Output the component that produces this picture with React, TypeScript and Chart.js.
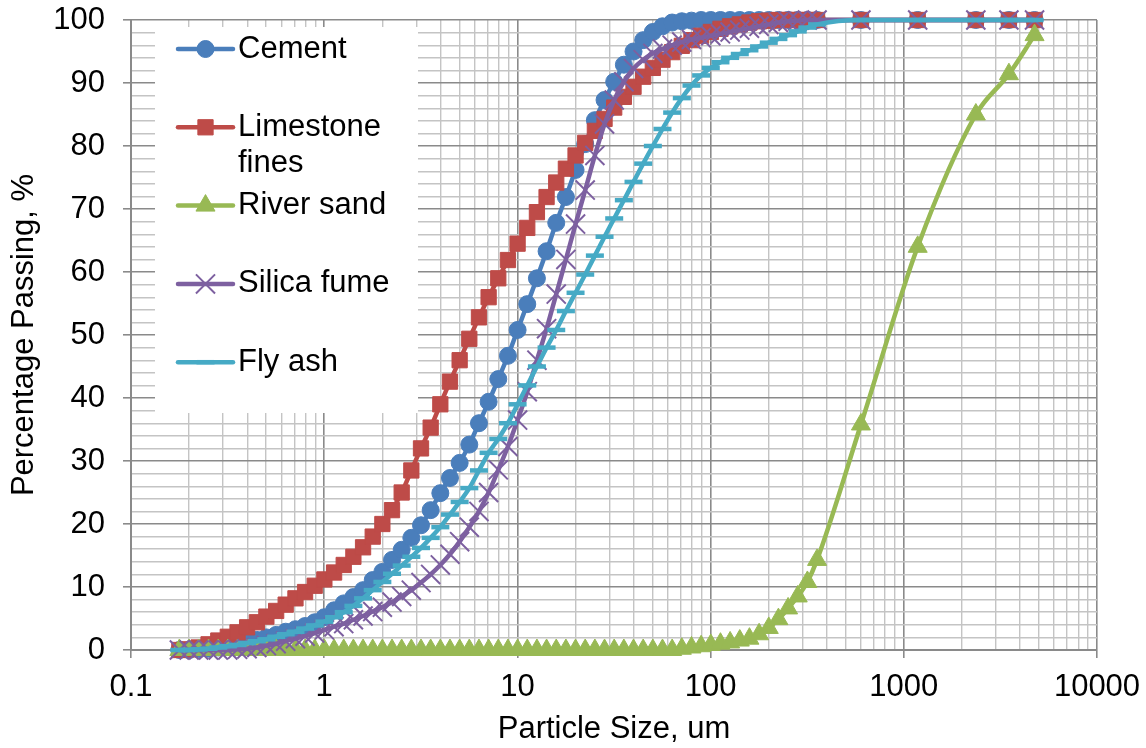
import React, { useEffect, useRef } from 'react';
import { Chart, registerables } from 'chart.js';

Chart.register(...registerables);

const FONT = '"Liberation Sans", Arial, Helvetica, sans-serif';

// Particle sizes (um): laser-diffraction bins followed by sieve sizes
const SIZES = [
  0.178, 0.2, 0.224, 0.252, 0.283, 0.317, 0.356, 0.399, 0.448, 0.502,
  0.564, 0.632, 0.71, 0.796, 0.893, 1.002, 1.125, 1.262, 1.416, 1.589,
  1.783, 2.0, 2.244, 2.518, 2.825, 3.17, 3.557, 3.991, 4.477, 5.024,
  5.637, 6.325, 7.096, 7.962, 8.934, 10.024, 11.247, 12.619, 14.159, 15.887,
  17.825, 20.0, 22.44, 25.179, 28.251, 31.698, 35.566, 39.905, 44.774, 50.238,
  56.368, 63.246, 70.963, 79.621, 89.337, 100.237, 112.468, 126.191, 141.589, 158.866,
  178.25, 200.0, 224.404, 251.785, 282.508, 316.979, 355.656,
  600, 1180, 2360, 3500, 4750,
];

const CEMENT = [
  0, 0, 0.1, 0.2, 0.4, 0.6, 0.9, 1.2, 1.6, 2.0,
  2.4, 2.9, 3.3, 3.8, 4.4, 5.2, 6.3, 7.4, 8.4, 9.5,
  11.1, 12.4, 14.3, 15.9, 17.8, 19.8, 22.2, 24.9, 27.3, 29.7,
  32.6, 36.0, 39.4, 43.0, 46.7, 50.8, 54.9, 59.0, 63.3, 67.8,
  71.9, 76.2, 80.3, 84.1, 87.3, 90.2, 92.9, 95.0, 96.8, 98.1,
  99.0, 99.6, 99.8, 99.9, 100, 100, 100, 100, 100, 100,
  100, 100, 100, 100, 100, 100, 100,
  100, 100, 100, 100, 100,
];

const LIMESTONE = [
  0, 0.1, 0.4, 0.9, 1.5, 2.1, 2.8, 3.6, 4.4, 5.3,
  6.2, 7.2, 8.2, 9.2, 10.2, 11.2, 12.3, 13.5, 14.8, 16.3,
  18.0, 20.0, 22.2, 25.0, 28.5, 32.0, 35.3, 39.0, 42.6, 46.0,
  49.4, 52.8, 56.0, 59.0, 61.9, 64.5, 67.0, 69.5, 71.9, 74.2,
  76.4, 78.5, 80.5, 82.4, 84.3, 86.1, 87.8, 89.4, 91.0, 92.4,
  93.7, 94.9, 95.9, 96.8, 97.5, 98.1, 98.6, 99.0, 99.3, 99.6,
  99.8, 99.9, 100, 100, 100, 100, 100,
  100, 100, 100, 100, 100,
];

const RIVER_SAND = [
  0, 0, 0, 0, 0, 0, 0, 0, 0, 0,
  0, 0, 0, 0, 0, 0, 0, 0, 0, 0,
  0, 0, 0, 0, 0, 0, 0, 0, 0, 0,
  0, 0, 0, 0, 0, 0, 0, 0, 0, 0,
  0, 0, 0, 0, 0, 0, 0, 0, 0, 0,
  0, 0, 0.2, 0.4, 0.6, 0.8, 1.0, 1.2, 1.5, 1.8,
  2.5, 3.5, 4.9, 6.6, 8.5, 10.8, 14.3,
  35.8, 64.0, 85.0, 91.4, 97.6,
];

const SILICA_FUME = [
  0, 0, 0, 0, 0, 0, 0.1, 0.2, 0.4, 0.7,
  1.0, 1.4, 1.8, 2.2, 2.7, 3.2, 3.7, 4.2, 4.8, 5.4,
  6.1, 6.8, 7.6, 8.5, 9.5, 10.7, 12.0, 13.5, 15.2, 17.2,
  19.5, 22.0, 25.0, 28.6, 32.3, 36.5, 41.0, 46.0, 51.0, 56.5,
  62.0, 67.6, 73.0, 78.5, 83.5, 87.3, 90.2, 92.3, 93.7, 94.7,
  95.4, 96.0, 96.5, 96.9, 97.2, 97.5, 97.8, 98.1, 98.4, 98.7,
  99.0, 99.3, 99.6, 99.8, 99.9, 100, 100,
  100, 100, 100, 100, 100,
];

const FLY_ASH = [
  0, 0, 0.1, 0.2, 0.4, 0.6, 0.8, 1.1, 1.4, 1.7,
  2.1, 2.5, 2.9, 3.4, 3.9, 4.5, 5.2, 6.0, 7.0, 8.2,
  9.5, 10.8, 12.1, 13.4, 14.8, 16.2, 17.8, 19.5, 21.5, 23.5,
  25.7, 28.5, 31.3, 33.5, 36.0, 39.0, 42.0, 45.0, 48.0, 50.8,
  53.8, 56.7, 59.6, 62.6, 65.6, 68.5, 71.4, 74.3, 77.2, 80.0,
  82.7, 85.3, 87.6, 89.6, 91.2, 92.4, 93.3, 94.0, 94.6, 95.2,
  95.8, 96.4, 97.0, 97.6, 98.2, 98.8, 99.3,
  100, 100, 100, 100, 100,
];

const SERIES_NAMES = ['Cement', 'Limestone fines', 'River sand', 'Silica fume', 'Fly ash'];
const LEGEND_LINES = [['Cement'], ['Limestone', 'fines'], ['River sand'], ['Silica fume'], ['Fly ash']];
const COLORS = ['#4A7EBB', '#BE4B48', '#98B954', '#7D60A0', '#46AAC5'];

const X_TICKS = [
  0.1, 0.2, 0.3, 0.4, 0.5, 0.6, 0.7, 0.8, 0.9,
  1, 2, 3, 4, 5, 6, 7, 8, 9,
  10, 20, 30, 40, 50, 60, 70, 80, 90,
  100, 200, 300, 400, 500, 600, 700, 800, 900,
  1000, 2000, 3000, 4000, 5000, 6000, 7000, 8000, 9000,
  10000,
];
const X_MIN = 0.1;
const X_MAX = 10000;
const Y_MIN = 0;
const Y_MAX = 100;
const Y_MINOR_STEP = 2;
const Y_MAJOR_STEP = 10;

const X_TITLE = 'Particle Size, um';
const Y_TITLE = 'Percentage Passing, %';

const MAJOR_GRID = '#8a8a8a';
const MINOR_GRID = '#c4c4c4';

const isDecade = (v: number) => {
  const l = Math.log10(v);
  return Math.abs(l - Math.round(l)) < 1e-6;
};

type MarkerSpec = { style: string; radius: number; borderWidth: number };
const MARKERS: MarkerSpec[] = [
  { style: 'circle', radius: 8.5, borderWidth: 1 },
  { style: 'rect', radius: 10.8, borderWidth: 1 },
  { style: 'triangle', radius: 11, borderWidth: 1 },
  { style: 'crossRot', radius: 13.5, borderWidth: 2 },
  { style: 'line', radius: 9, borderWidth: 4.5 },
];

function drawMarker(ctx: CanvasRenderingContext2D, m: MarkerSpec, x: number, y: number, color: string) {
  ctx.save();
  ctx.fillStyle = color;
  ctx.strokeStyle = color;
  ctx.lineWidth = m.borderWidth;
  ctx.beginPath();
  const r = m.radius;
  if (m.style === 'circle') {
    ctx.arc(x, y, r, 0, Math.PI * 2);
    ctx.fill();
    ctx.stroke();
  } else if (m.style === 'rect') {
    const s = Math.SQRT1_2 * r;
    ctx.rect(x - s, y - s, 2 * s, 2 * s);
    ctx.fill();
    ctx.stroke();
  } else if (m.style === 'triangle') {
    let rad = 0;
    ctx.moveTo(x + Math.sin(rad) * r, y - Math.cos(rad) * r);
    rad += (2 * Math.PI) / 3;
    ctx.lineTo(x + Math.sin(rad) * r, y - Math.cos(rad) * r);
    rad += (2 * Math.PI) / 3;
    ctx.lineTo(x + Math.sin(rad) * r, y - Math.cos(rad) * r);
    ctx.closePath();
    ctx.fill();
    ctx.stroke();
  } else if (m.style === 'crossRot') {
    const o = Math.cos(Math.PI / 4) * r;
    ctx.moveTo(x - o, y - o);
    ctx.lineTo(x + o, y + o);
    ctx.moveTo(x - o, y + o);
    ctx.lineTo(x + o, y - o);
    ctx.stroke();
  } else if (m.style === 'line') {
    ctx.moveTo(x - r, y);
    ctx.lineTo(x + r, y);
    ctx.stroke();
  }
  ctx.restore();
}

const legendPlugin = {
  id: 'boxLegend',
  afterDraw(chart: any) {
    const { ctx, chartArea } = chart;
    const boxLeft = chartArea.left + 24;
    const boxTop = chartArea.top + 7;
    const boxW = 263;
    const boxH = 386;
    ctx.save();
    ctx.fillStyle = '#ffffff';
    ctx.fillRect(boxLeft, boxTop, boxW, boxH);
    const rowGap = 78.3;
    const firstY = boxTop + 22;
    const lineX0 = boxLeft + 23;
    const lineX1 = boxLeft + 78;
    const textX = boxLeft + 83;
    LEGEND_LINES.forEach((lines, i) => {
      const y = firstY + i * rowGap;
      const color = COLORS[i];
      ctx.save();
      ctx.strokeStyle = color;
      ctx.lineWidth = 4.5;
      ctx.lineCap = 'round';
      ctx.beginPath();
      ctx.moveTo(lineX0, y);
      ctx.lineTo(lineX1, y);
      ctx.stroke();
      ctx.restore();
      drawMarker(ctx, MARKERS[i], (lineX0 + lineX1) / 2, y, color);
      ctx.fillStyle = '#000000';
      ctx.font = `31px ${FONT}`;
      ctx.textAlign = 'left';
      ctx.textBaseline = 'middle';
      lines.forEach((t, j) => {
        ctx.fillText(t, textX, y + j * 36);
      });
    });
    ctx.restore();
  },
};

export default function App() {
  const canvasRef = useRef<HTMLCanvasElement | null>(null);

  useEffect(() => {
    document.body.style.margin = '0';
    const canvas = canvasRef.current;
    if (!canvas) return;

    const seriesValues = [CEMENT, LIMESTONE, RIVER_SAND, SILICA_FUME, FLY_ASH];
    const datasets = seriesValues.map((vals, i) => ({
      label: SERIES_NAMES[i],
      data: SIZES.map((x, k) => ({ x, y: vals[k] })),
      borderColor: COLORS[i],
      backgroundColor: COLORS[i],
      borderWidth: 4.5,
      borderCapStyle: 'round' as const,
      borderJoinStyle: 'round' as const,
      cubicInterpolationMode: 'monotone' as const,
      pointStyle: MARKERS[i].style as any,
      pointRadius: MARKERS[i].radius,
      pointBorderWidth: MARKERS[i].borderWidth,
      pointBackgroundColor: COLORS[i],
      pointBorderColor: COLORS[i],
      fill: false,
      clip: false as any,
      order: 4 - i,
    }));

    const gridColor = (c: any) => {
      const v = c.tick ? c.tick.value : 0;
      return isDecade(v) ? MAJOR_GRID : MINOR_GRID;
    };
    const yGridColor = (c: any) => {
      const v = c.tick ? c.tick.value : 0;
      return Math.round(v) % Y_MAJOR_STEP === 0 ? MAJOR_GRID : MINOR_GRID;
    };

    const chart = new Chart(canvas, {
      type: 'line',
      data: { datasets },
      plugins: [legendPlugin],
      options: {
        animation: false,
        responsive: false,
        devicePixelRatio: 1,
        layout: { padding: { top: 20, right: 49, left: 0, bottom: 0 } },
        plugins: {
          legend: { display: false },
          tooltip: { enabled: false },
          title: { display: false },
        },
        scales: {
          x: {
            type: 'logarithmic',
            position: 'bottom',
            min: X_MIN,
            max: X_MAX,
            afterBuildTicks: (s: any) => {
              s.ticks = X_TICKS.map((v) => ({ value: v, major: isDecade(v) }));
            },
            afterFit: (s: any) => {
              s.height = 98;
              s.paddingLeft = 0;
              s.paddingRight = 0;
            },
            ticks: {
              autoSkip: false,
              maxRotation: 0,
              minRotation: 0,
              padding: 11,
              color: '#000000',
              font: { family: FONT, size: 31 },
              callback: (v: any) => (isDecade(Number(v)) ? String(Number(v)) : ''),
            },
            grid: {
              color: gridColor,
              lineWidth: (c: any) => (isDecade(c.tick ? c.tick.value : 0) ? 1.6 : 1.4),
              tickLength: 8,
              tickColor: (c: any) => (isDecade(c.tick ? c.tick.value : 0) ? MAJOR_GRID : 'rgba(0,0,0,0)'),
              tickWidth: 1.6,
            },
            border: { color: MAJOR_GRID, width: 2 },
            title: {
              display: true,
              text: X_TITLE,
              color: '#000000',
              font: { family: FONT, size: 31 },
              padding: { top: 0, bottom: 0 },
            },
          },
          y: {
            type: 'linear',
            position: 'left',
            min: Y_MIN,
            max: Y_MAX,
            afterFit: (s: any) => {
              s.width = 131;
              s.paddingTop = 0;
              s.paddingBottom = 0;
            },
            ticks: {
              stepSize: Y_MINOR_STEP,
              autoSkip: false,
              padding: 18,
              color: '#000000',
              font: { family: FONT, size: 31 },
              callback: (v: any) => (Math.round(Number(v)) % Y_MAJOR_STEP === 0 ? String(Math.round(Number(v))) : ''),
            },
            grid: {
              color: yGridColor,
              lineWidth: (c: any) => (Math.round(c.tick ? c.tick.value : 0) % Y_MAJOR_STEP === 0 ? 1.6 : 1.4),
              tickLength: 8,
              tickColor: (c: any) =>
                Math.round(c.tick ? c.tick.value : 0) % Y_MAJOR_STEP === 0 ? MAJOR_GRID : 'rgba(0,0,0,0)',
              tickWidth: 1.6,
            },
            border: { color: MAJOR_GRID, width: 2 },
            title: {
              display: true,
              text: Y_TITLE,
              color: '#000000',
              font: { family: FONT, size: 31 },
              padding: { top: 6, bottom: 0 },
            },
          },
        },
      } as any,
    });

    return () => {
      chart.destroy();
    };
  }, []);

  return (
    <div style={{ position: 'relative', width: 1146, height: 748, background: '#ffffff' }}>
      <canvas ref={canvasRef} width={1146} height={748} style={{ width: 1146, height: 748 }} />
    </div>
  );
}
